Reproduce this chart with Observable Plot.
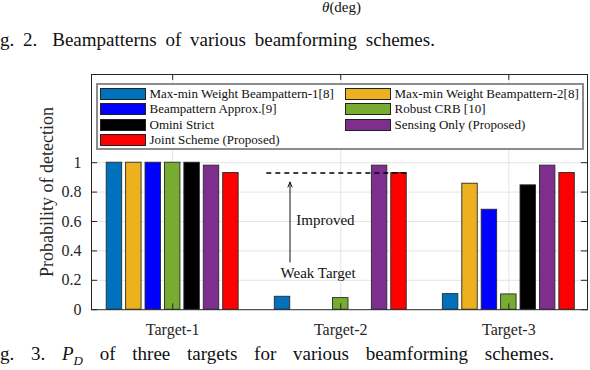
<!DOCTYPE html>
<html>
<head>
<meta charset="utf-8">
<script src="https://cdn.jsdelivr.net/npm/d3@7"></script>
<script src="https://cdn.jsdelivr.net/npm/@observablehq/plot@0.6"></script>
<style>
  html, body { margin: 0; padding: 0; background: white; }
  body { width: 590px; height: 370px; position: relative; overflow: hidden; font-family: "Liberation Serif", "DejaVu Serif", serif; color: #111; }
  #theta { position: absolute; left: 322px; top: -1px; font-size: 15px; }
  #cap2 { position: absolute; left: 0px; top: 29px; font-size: 19px; white-space: nowrap; word-spacing: 4px; }
  #cap3 { position: absolute; left: 0px; top: 343px; font-size: 19px; line-height: 22px; white-space: nowrap; word-spacing: 12px; }
  #chart { position: absolute; left: 0; top: 56px; }
  #legend { position: absolute; left: 96px; top: 83px; width: 488px; height: 67px; box-sizing: border-box;
            border: 2.5px solid #8c8c8c; background: white; }
  .item { position: absolute; font-size: 13px; line-height: 13px; white-space: nowrap; }
  .sw { position: absolute; width: 44px; height: 10px; border: 1px solid #222; }
  .lab { position: absolute; left: 50px; top: -1px; }
</style>
</head>
<body>
<div id="theta"><i>θ</i>(deg)</div>
<div id="cap2">g. 2.<span style="margin-left:15px">Beampatterns of various beamforming schemes.</span></div>
<div id="chart"></div>
<div id="legend"></div>
<div id="cap3">g. 3.&nbsp;<i>P</i><sub style="font-size:13px; line-height:0"><i>D</i></sub> of three targets for various beamforming schemes.</div>
<script>
const targets = ["Target-1", "Target-2", "Target-3"];
const schemes = [
  "Max-min Weight Beampattern-1[8]",
  "Max-min Weight Beampattern-2[8]",
  "Beampattern Approx.[9]",
  "Robust CRB [10]",
  "Omini Strict",
  "Sensing Only (Proposed)",
  "Joint Scheme (Proposed)"
];
const colors = ["#0072BD", "#EDB120", "#0000FF", "#77AC30", "#000000", "#7E2F8E", "#FF0000"];
const target1 = [1.0, 1.0, 1.0, 1.0, 1.0, 0.98, 0.93];
const target2 = [0.088, 0, 0, 0.079, 0, 0.98, 0.93];
const target3 = [0.106, 0.857, 0.68, 0.104, 0.846, 0.98, 0.93];
const yTicks = [0, 0.2, 0.4, 0.6, 0.8, 1];
const yTickLabels = ["0", "0.2", "0.4", "0.6", "0.8", "1"];
const improvedLine = [{x1: 1.56, x2: 2.392, y: 0.93}];
const arrowData = [{x: 1.698, y1: 0.324, y2: 0.868}];
const noteImproved = [{x: 1.735, y: 0.607, text: "Improved"}];
const noteWeak = [{x: 1.865, y: 0.245, text: "Weak Target"}];

const series = [target1, target2, target3];
const pitch = 0.1155, bw = 0.092;
const bars = [];
series.forEach((vals, ti) => vals.forEach((v, si) => {
  if (v > 0) {
    const c = ti + 1 + (si - 3) * pitch;
    bars.push({x1: c - bw / 2, x2: c + bw / 2, value: v, color: colors[si]});
  }
}));

const xDom = [0.517, 3.468], yDom = [0, 1.6];
const tx = 0.036, ty = 0.04;

const chart = Plot.plot({
  width: 590, height: 284,
  marginTop: 18, marginBottom: 30.8, marginLeft: 91, marginRight: 3,
  x: {domain: xDom},
  y: {domain: yDom},
  style: {fontFamily: "Liberation Serif", fontSize: "16px", color: "#262626", background: "white", overflow: "visible"},
  marks: [
    Plot.ruleY(yTicks.slice(1), {stroke: "#e4e4e4", strokeWidth: 1}),
    Plot.ruleX([1, 2, 3], {stroke: "#e4e4e4", strokeWidth: 1}),
    Plot.rectY(bars, {x1: "x1", x2: "x2", y1: 0, y2: "value", fill: "color", stroke: "#2a2a2a", strokeWidth: 0.9}),
    Plot.ruleY(improvedLine, {x1: "x1", x2: "x2", y: "y", stroke: "black", strokeWidth: 1.3, strokeDasharray: "5,4"}),
    Plot.arrow(arrowData, {x1: "x", x2: "x", y1: "y1", y2: "y2", stroke: "#111", strokeWidth: 1, headLength: 8, headAngle: 45}),
    Plot.text(noteImproved, {x: "x", y: "y", text: "text", textAnchor: "start", fill: "#111", fontSize: 15}),
    Plot.text(noteWeak, {x: "x", y: "y", text: "text", textAnchor: "middle", fill: "#111", fontSize: 15}),
    Plot.frame({stroke: "#262626", strokeWidth: 1}),
    Plot.ruleY(yTicks, {x1: xDom[0], x2: xDom[0] + tx, stroke: "#262626"}),
    Plot.ruleY(yTicks, {x1: xDom[1] - tx, x2: xDom[1], stroke: "#262626"}),
    Plot.ruleX([1, 2, 3], {y1: 0, y2: ty, stroke: "#262626"}),
    Plot.ruleX([1, 2, 3], {y1: yDom[1] - ty, y2: yDom[1], stroke: "#262626"}),
    Plot.axisY({ticks: yTicks, tickSize: 0, tickPadding: 10, tickFormat: d => yTickLabels[yTicks.indexOf(d)],
                label: null, fill: "#262626"}),
    Plot.axisY({ticks: [], label: "Probability of detection", labelAnchor: "center", labelArrow: "none",
                labelOffset: 51, fontSize: 18, fill: "#262626"}),
    Plot.axisX({ticks: [1, 2, 3], tickSize: 0, tickPadding: 14, tickFormat: d => targets[d - 1], label: null, fill: "#262626"})
  ]
});
document.getElementById("chart").appendChild(chart);

const legend = document.getElementById("legend");
schemes.forEach((s, i) => {
  const col = i % 2, row = Math.floor(i / 2);
  const item = document.createElement("div");
  item.className = "item";
  item.style.left = (col === 0 ? 1.5 : 246.5) + "px";
  item.style.top = (2.5 + row * 15.5) + "px";
  const sw = document.createElement("div");
  sw.className = "sw";
  sw.style.background = colors[i];
  const lab = document.createElement("div");
  lab.className = "lab";
  lab.textContent = s;
  item.appendChild(sw);
  item.appendChild(lab);
  legend.appendChild(item);
});
</script>
</body>
</html>
